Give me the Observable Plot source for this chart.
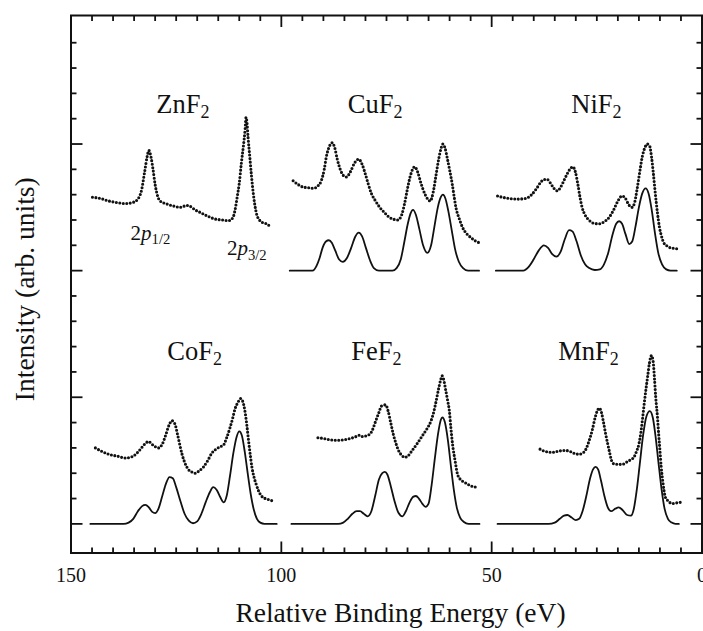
<!DOCTYPE html>
<html><head><meta charset="utf-8">
<script src="https://cdn.jsdelivr.net/npm/d3@7"></script>
<script src="https://cdn.jsdelivr.net/npm/@observablehq/plot@0.6"></script>
<style>
html,body{margin:0;padding:0;background:#fff;overflow:hidden;}
#chart{width:703px;height:631px;}
</style></head><body><div id="chart"></div>
<script>
// ---- tick values ----
const xMajorTicks = [150, 100, 50, 0];
const xMinorTicks = [145,140,135,130,125,120,115,110,105,95,90,85,80,75,70,65,60,55,45,40,35,30,25,20,15,10,5];
const yMajorTicks = [0, 1, 2, 3];
const yMinorTicks = [0.2,0.4,0.6,0.8,1.2,1.4,1.6,1.8,2.2,2.4,2.6,2.8,3.2,3.4,3.6,3.8];

// ---- panel titles ----
const compounds = ["ZnF2", "CuF2", "NiF2", "CoF2", "FeF2", "MnF2"];
const titleE = [123.4, 77.7, 25.1, 120.6, 77.4, 27.0];
const titleI = [3.31, 3.31, 3.31, 1.36, 1.36, 1.36];

// ---- peak annotations (ZnF2) ----
const annoText = ["2p1/2", "2p3/2"];
const annoE = [131.1, 108.2];
const annoI = [2.245, 2.12];

// ---- experimental spectra (dots): [energy eV, intensity] ----
const expZnF2 = [[144.9,2.58],[143,2.57],[141,2.55],[139.5,2.54],[137,2.53],[135.2,2.54],[134,2.57],[133.2,2.64],[132.5,2.78],[131.9,2.9],[131.5,2.95],[131,2.9],[130.5,2.8],[130,2.68],[129.5,2.6],[128.8,2.55],[127.5,2.53],[125.6,2.51],[124,2.5],[122.5,2.515],[121.8,2.51],[120.5,2.48],[119.3,2.46],[117.5,2.43],[116,2.41],[114,2.4],[112.5,2.395],[111.5,2.42],[111,2.48],[110.5,2.58],[110,2.69],[109.5,2.85],[109,2.99],[108.6,3.12],[108.4,3.21],[108.2,3.18],[107.9,3.05],[107.5,2.9],[107.1,2.75],[106.7,2.62],[106.3,2.52],[105.9,2.45],[105.2,2.4],[104.5,2.38],[103.5,2.37],[102.7,2.35]];
const expCuF2 = [[97.2,2.71],[96,2.68],[94.8,2.66],[93.5,2.655],[92.4,2.65],[91.3,2.67],[90.5,2.71],[89.8,2.8],[89.3,2.9],[88.6,2.98],[87.9,3.01],[87.3,2.97],[86.7,2.88],[86,2.8],[85.2,2.75],[84.5,2.74],[83.6,2.78],[82.6,2.85],[81.6,2.88],[80.8,2.84],[80,2.76],[79.3,2.68],[78.6,2.61],[77.6,2.55],[76.6,2.5],[75.5,2.46],[74.3,2.42],[73.2,2.405],[72.3,2.4],[71.4,2.44],[70.7,2.53],[70,2.65],[69.4,2.74],[68.8,2.8],[68.3,2.82],[67.6,2.78],[66.8,2.69],[65.8,2.6],[64.6,2.55],[63.9,2.62],[63.2,2.76],[62.6,2.88],[62,2.97],[61.6,3.0],[61.1,2.97],[60.5,2.88],[59.9,2.78],[59.4,2.69],[58.9,2.58],[58.5,2.5],[57.7,2.41],[56.9,2.34],[55.9,2.29],[54.9,2.26],[53.9,2.235],[52.9,2.22]];
const expNiF2 = [[48.6,2.59],[47.5,2.58],[45.8,2.57],[44,2.565],[41.9,2.57],[40.5,2.6],[39.3,2.65],[38.3,2.7],[37.5,2.72],[36.8,2.72],[36,2.69],[35.2,2.65],[34.4,2.63],[33.6,2.66],[32.7,2.72],[31.8,2.78],[31.2,2.81],[30.7,2.82],[30.1,2.78],[29.5,2.68],[29,2.58],[28.5,2.5],[27.8,2.44],[26.9,2.4],[25.8,2.375],[24.5,2.37],[23.3,2.385],[22.1,2.42],[21,2.48],[20,2.55],[19,2.59],[18.2,2.57],[17.4,2.52],[16.6,2.5],[16,2.54],[15.4,2.65],[14.8,2.78],[14.2,2.9],[13.6,2.97],[13,3.0],[12.5,2.99],[12,2.9],[11.6,2.78],[11.1,2.61],[10.6,2.46],[10.1,2.34],[9.6,2.27],[9.1,2.22],[8.3,2.195],[7.5,2.18],[6.5,2.175],[5.6,2.17]];
const expCoF2 = [[144.2,0.6],[142.5,0.57],[141,0.55],[139,0.535],[137,0.52],[135.5,0.53],[134,0.57],[133,0.61],[132.2,0.64],[131.5,0.65],[130.8,0.63],[130,0.61],[129.2,0.6],[128.3,0.63],[127.5,0.7],[126.7,0.78],[126,0.815],[125.3,0.79],[124.7,0.71],[124.1,0.62],[123.6,0.55],[122.9,0.48],[122.1,0.43],[121.3,0.41],[120.5,0.4],[119.5,0.42],[118.5,0.45],[117.5,0.5],[116.5,0.56],[115.5,0.59],[114.5,0.61],[113.8,0.62],[113,0.68],[112.2,0.76],[111.6,0.83],[111,0.91],[110.3,0.96],[109.7,0.99],[109.2,0.97],[108.7,0.9],[108.2,0.78],[107.8,0.66],[107.4,0.55],[107,0.45],[106.5,0.37],[106,0.315],[105.4,0.26],[104.7,0.22],[103.8,0.2],[102.9,0.19],[101.9,0.18]];
const expFeF2 = [[91.3,0.68],[90,0.675],[88.5,0.665],[86.5,0.66],[85,0.665],[83.5,0.675],[82.2,0.69],[81.4,0.7],[80.8,0.69],[79.4,0.7],[78.5,0.73],[77.7,0.8],[76.8,0.88],[76.2,0.93],[75.2,0.94],[74.6,0.89],[74,0.8],[73.4,0.71],[72.7,0.63],[72,0.57],[71.3,0.54],[70.7,0.525],[69.8,0.54],[68.9,0.58],[67.8,0.63],[66.4,0.7],[65.4,0.75],[64.4,0.815],[63.8,0.88],[63.2,0.97],[62.6,1.07],[62.1,1.14],[61.8,1.17],[61.4,1.14],[61,1.07],[60.5,0.98],[60.05,0.89],[59.7,0.76],[59.3,0.63],[58.7,0.5],[58.1,0.39],[57.4,0.35],[56.5,0.33],[55.5,0.31],[54.5,0.295],[53.7,0.29]];
const expMnF2 = [[38.5,0.59],[37.5,0.575],[35.6,0.565],[34,0.575],[32.5,0.58],[31.2,0.57],[30.2,0.555],[29.25,0.55],[28.3,0.56],[27.6,0.59],[26.9,0.65],[26.1,0.74],[25.4,0.84],[24.8,0.9],[24.4,0.915],[23.9,0.88],[23.4,0.8],[22.9,0.71],[22.4,0.63],[22,0.57],[21.5,0.5],[21,0.475],[20,0.47],[19,0.47],[17.8,0.49],[16.8,0.51],[16.2,0.525],[15.6,0.57],[15,0.63],[14.5,0.73],[14.1,0.84],[13.7,0.96],[13.3,1.07],[12.9,1.17],[12.5,1.27],[12,1.33],[11.6,1.28],[11.3,1.15],[11,1.0],[10.6,0.85],[10.3,0.71],[10,0.58],[9.7,0.45],[9.3,0.33],[8.7,0.21],[8,0.18],[7.1,0.16],[6.2,0.165],[5.15,0.17]];

// ---- calculated spectra (solid lines) ----
const theoCuF2 = [[98,2],[92.6,2],[91.6,2.04],[90.9,2.1],[90.2,2.18],[89.4,2.23],[88.7,2.24],[88,2.22],[87.2,2.16],[86.3,2.09],[85.4,2.07],[84.4,2.1],[83.4,2.18],[82.4,2.27],[81.6,2.3],[80.8,2.27],[79.9,2.18],[78.9,2.08],[78,2.02],[76.8,2],[73.6,2],[72.6,2.02],[71.6,2.09],[70.8,2.22],[70,2.36],[69.3,2.45],[68.7,2.48],[68,2.44],[67.2,2.33],[66.3,2.2],[65.3,2.14],[64.4,2.2],[63.6,2.35],[62.8,2.5],[62.1,2.58],[61.6,2.6],[61,2.57],[60.3,2.47],[59.5,2.32],[58.7,2.17],[57.8,2.07],[56.8,2.02],[55.6,2],[53,2]];
const theoNiF2 = [[49,2],[42.5,2],[41.2,2.03],[40,2.09],[38.8,2.16],[37.6,2.2],[36.6,2.18],[35.6,2.13],[34.6,2.11],[33.6,2.15],[32.6,2.25],[31.6,2.32],[30.8,2.31],[29.8,2.23],[28.8,2.12],[27.8,2.05],[26.8,2.02],[25.5,2.005],[24.3,2.01],[23.3,2.05],[22.3,2.14],[21.3,2.28],[20.4,2.37],[19.7,2.39],[19,2.37],[18.2,2.29],[17.3,2.21],[16.6,2.23],[15.8,2.35],[15,2.5],[14.2,2.61],[13.4,2.65],[12.7,2.61],[12,2.49],[11.2,2.3],[10.4,2.14],[9.5,2.05],[8.5,2.01],[7.5,2],[6,2]];
const theoCoF2 = [[145.4,0],[137.5,0],[136.3,0.01],[135.2,0.04],[134.1,0.1],[133.1,0.14],[132.3,0.15],[131.5,0.13],[130.7,0.095],[130,0.085],[129.2,0.12],[128.3,0.22],[127.4,0.32],[126.6,0.37],[125.8,0.36],[125,0.29],[124,0.18],[123,0.08],[122,0.025],[121,0.005],[120,0.02],[119,0.08],[118,0.17],[117,0.25],[116.2,0.29],[115.4,0.27],[114.5,0.21],[113.7,0.17],[113,0.22],[112.2,0.38],[111.4,0.56],[110.6,0.69],[110,0.73],[109.4,0.7],[108.7,0.57],[108,0.4],[107.3,0.24],[106.6,0.12],[105.8,0.04],[105,0.01],[104,0],[101.1,0]];
const theoFeF2 = [[97.6,0],[86.5,0],[85.3,0.01],[84.2,0.04],[83.1,0.08],[82.1,0.1],[81.3,0.1],[80.4,0.08],[79.5,0.06],[78.6,0.1],[77.7,0.22],[76.8,0.35],[76,0.4],[75.4,0.41],[74.8,0.39],[74,0.3],[73.1,0.18],[72.2,0.09],[71.2,0.06],[70.4,0.1],[69.5,0.17],[68.6,0.215],[68,0.22],[67.3,0.2],[66.5,0.16],[65.7,0.135],[65,0.16],[64.3,0.3],[63.5,0.52],[62.7,0.72],[62.1,0.82],[61.7,0.84],[61.1,0.8],[60.4,0.66],[59.7,0.46],[59,0.27],[58.3,0.13],[57.5,0.05],[56.6,0.015],[55.5,0],[52.9,0]];
const theoMnF2 = [[48.6,0],[36.5,0],[35,0.01],[33.8,0.04],[32.8,0.065],[32,0.07],[31,0.05],[30,0.03],[29.2,0.04],[28.4,0.1],[27.5,0.22],[26.6,0.36],[25.9,0.43],[25.3,0.45],[24.7,0.43],[24,0.34],[23.2,0.22],[22.4,0.13],[21.6,0.1],[20.6,0.12],[19.8,0.13],[18.9,0.11],[17.8,0.07],[16.9,0.065],[16.2,0.12],[15.5,0.27],[14.8,0.47],[14,0.7],[13.2,0.85],[12.4,0.89],[11.7,0.84],[11,0.68],[10.3,0.47],[9.6,0.27],[8.9,0.12],[8.1,0.04],[7.2,0.01],[6.3,0],[5.5,0]];

// ---- build tables ----
const toRows = (arr, name) => arr.map(([e, i]) => ({e, i, name}));
const expRows = [
  ...toRows(expZnF2, "ZnF2"), ...toRows(expCuF2, "CuF2"), ...toRows(expNiF2, "NiF2"),
  ...toRows(expCoF2, "CoF2"), ...toRows(expFeF2, "FeF2"), ...toRows(expMnF2, "MnF2")
];
const theoRows = [
  ...toRows(theoCuF2, "CuF2"), ...toRows(theoNiF2, "NiF2"),
  ...toRows(theoCoF2, "CoF2"), ...toRows(theoFeF2, "FeF2"), ...toRows(theoMnF2, "MnF2")
];
const titleRows = compounds.map((name, k) => ({name, e: titleE[k], i: titleI[k]}));
const annoRows = annoText.map((name, k) => ({name, e: annoE[k], i: annoI[k]}));

const ink = "#111";
const serif = "Liberation Serif, Times New Roman, serif";
const blank = () => "";

const plot = Plot.plot({
  width: 703, height: 631,
  marginLeft: 70.5, marginRight: 1.5, marginTop: 15, marginBottom: 78.5,
  style: {fontFamily: serif, background: "#fff", color: ink, overflow: "visible"},
  x: {domain: [150, 0], label: null},
  y: {domain: [-0.23, 4.015], label: null},
  marks: [
    Plot.line(theoRows, {x: "e", y: "i", z: "name", curve: "monotone-x", stroke: ink, strokeWidth: 1.8}),
    Plot.line(expRows, {x: "e", y: "i", z: "name", curve: "monotone-x", stroke: ink, strokeWidth: 3.1, strokeDasharray: "0 3.5", strokeLinecap: "round"}),
    Plot.text(titleRows, {x: "e", y: "i", text: "name", fontSize: 26.5, fontFamily: serif, className: "ptitle", fill: ink}),
    Plot.text(annoRows, {x: "e", y: "i", text: "name", fontSize: 21, fontFamily: serif, lineAnchor: "bottom", className: "anno", fill: ink}),
    Plot.frame({stroke: ink, strokeWidth: 2}),
    // x axis labels
    Plot.axisX({anchor: "bottom", ticks: xMajorTicks, tickSize: 0, tickPadding: 14.3, fontSize: 20, fontFamily: serif, label: null}),
    // inward ticks
    Plot.axisX({anchor: "bottom", ticks: xMajorTicks, tickSize: -11, tickFormat: blank, label: null, strokeWidth: 1.8}),
    Plot.axisX({anchor: "bottom", ticks: xMinorTicks, tickSize: -5, tickFormat: blank, label: null, strokeWidth: 1.8}),
    Plot.axisX({anchor: "top", ticks: xMajorTicks, tickSize: -11, tickFormat: blank, label: null, strokeWidth: 1.8}),
    Plot.axisX({anchor: "top", ticks: xMinorTicks, tickSize: -5, tickFormat: blank, label: null, strokeWidth: 1.8}),
    Plot.axisY({anchor: "left", ticks: yMajorTicks, tickSize: -12, tickFormat: blank, label: null, strokeWidth: 1.8}),
    Plot.axisY({anchor: "left", ticks: yMinorTicks, tickSize: -6, tickFormat: blank, label: null, strokeWidth: 1.8}),
    Plot.axisY({anchor: "right", ticks: yMajorTicks, tickSize: -12, tickFormat: blank, label: null, strokeWidth: 1.8}),
    Plot.axisY({anchor: "right", ticks: yMinorTicks, tickSize: -6, tickFormat: blank, label: null, strokeWidth: 1.8}),
    // axis titles
    Plot.text(["Relative Binding Energy (eV)"], {frameAnchor: "bottom", dx: 14, dy: 68.5, textAnchor: "middle", lineAnchor: "bottom", fontSize: 27.5, fontFamily: serif, fill: ink}),
    Plot.text(["Intensity (arb. units)"], {frameAnchor: "left", rotate: -90, dx: -37, dy: 5, textAnchor: "middle", lineAnchor: "bottom", fontSize: 27.5, fontFamily: serif, fill: ink})
  ]
});

// subscripts / italics as real text spans
d3.select(plot).selectAll("g.ptitle text").each(function() {
  const s = this.textContent;
  const m = s.match(/^(.*?)(\d+)$/);
  if (!m) return;
  const t = d3.select(this).text(null);
  t.append("tspan").text(m[1]);
  t.append("tspan").attr("font-size", "0.68em").attr("dy", "0.28em").text(m[2]);
});
d3.select(plot).selectAll("g.anno text").each(function() {
  const s = this.textContent;
  const m = s.match(/^(\d)(p)(.+)$/);
  if (!m) return;
  const t = d3.select(this).text(null);
  t.append("tspan").text(m[1]);
  t.append("tspan").attr("font-style", "italic").text(m[2]);
  t.append("tspan").attr("font-size", "0.7em").attr("dy", "0.3em").text(m[3]);
});

document.getElementById("chart").appendChild(plot);
</script>
</body></html>
